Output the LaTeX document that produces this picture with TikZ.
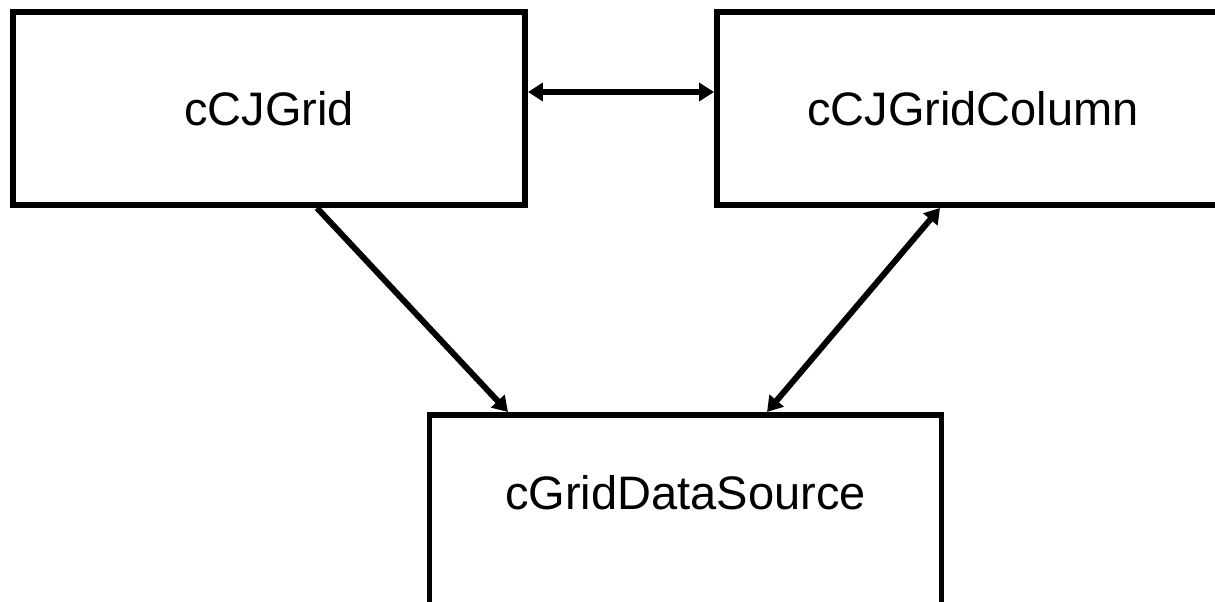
\documentclass[tikz,border=0pt]{standalone}
\usepackage{fontspec}
\setmainfont{Liberation Sans}
\usetikzlibrary{arrows.meta}

\tikzset{
    box/.style={draw, line width=3.4pt, minimum width=10.24cm, minimum height=3.86cm,
        font=\fontsize{26.75}{32}\selectfont},
    link/.style={line width=3.4pt, {Triangle[length=0.3cm,width=0.36cm]}-{Triangle[length=0.3cm,width=0.36cm]}},
    tolink/.style={line width=3.4pt, -{Triangle[length=0.3cm,width=0.36cm]}}
}

\begin{document}
\begin{tikzpicture}
    \useasboundingbox (0,0) rectangle (24.3,-12.04);
    \clip (0,0) rectangle (24.3,-12.04);
    \node[box] (grid) at (5.38,-2.17) {cCJGrid};
    \node[box] (column) at (19.46,-2.17) {cCJGridColumn};
    \node[box, inner ysep=0pt, text height=1.9cm, text depth=1.96cm, anchor=north] (source) at (13.71,-8.24) {cGridDataSource};
    \draw[link] ([yshift=0.33cm]grid.east) -- ([yshift=0.33cm]column.west);
    \draw[tolink] ([xshift=0.96cm]grid.south) -- ([xshift=-3.55cm]source.north);
    \draw[link] ([xshift=1.63cm]source.north) -- ([xshift=-0.66cm]column.south);
\end{tikzpicture}
\end{document}
